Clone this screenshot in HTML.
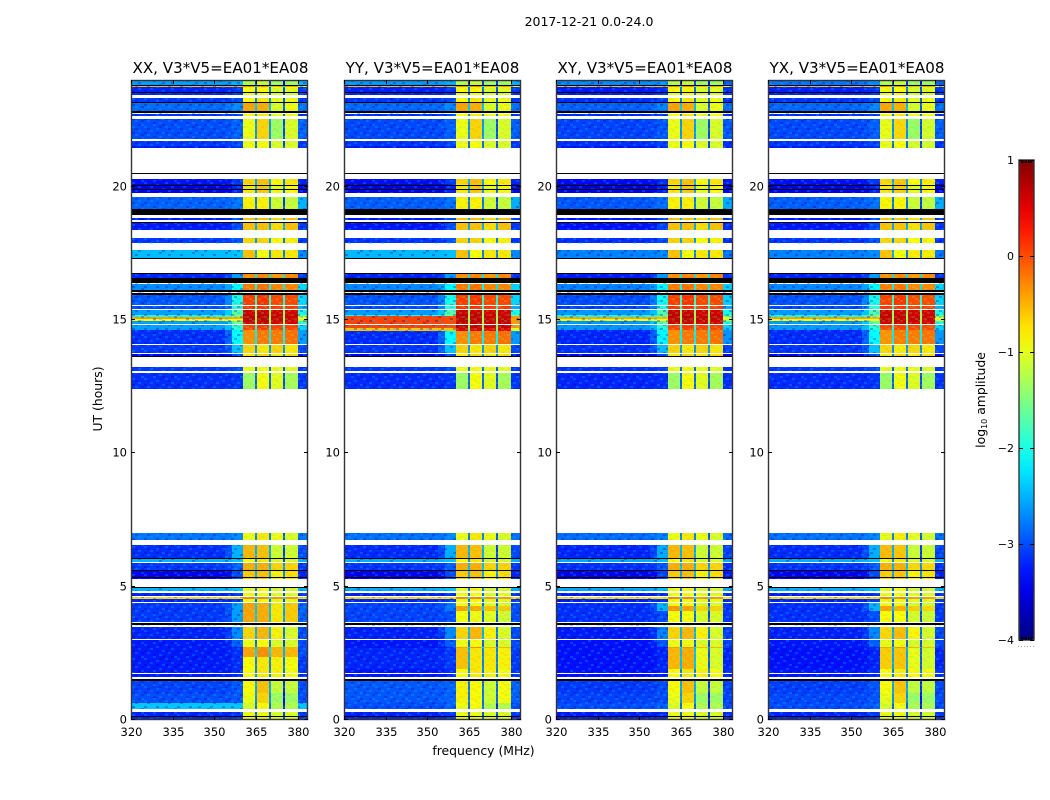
<!DOCTYPE html>
<html lang="en">
<head>
<meta charset="utf-8">
<title>2017-12-21 amplitude waterfall</title>
<style>
html,body{margin:0;padding:0;background:#fff;}
svg{display:block;}
text{font-family:"DejaVu Sans","Liberation Sans",sans-serif;fill:#000;}
</style>
</head>
<body>
<svg id="fig" xmlns="http://www.w3.org/2000/svg" width="1050" height="800" viewBox="0 0 1050 800">
  <defs>
    <linearGradient id="jet-gradient" x1="0" y1="1" x2="0" y2="0"></linearGradient>
    <pattern id="speckle" x="0" y="0" width="33" height="14" patternUnits="userSpaceOnUse">
      <g shape-rendering="crispEdges" fill="#00b4ff" fill-opacity="0.3">
        <rect x="0" y="0" width="3" height="2"/><rect x="12" y="0" width="3" height="2"/><rect x="24" y="2" width="3" height="2"/>
        <rect x="6" y="4" width="3" height="2"/><rect x="18" y="4" width="3" height="2"/><rect x="30" y="6" width="3" height="2"/>
        <rect x="3" y="8" width="3" height="2"/><rect x="15" y="8" width="3" height="2"/><rect x="27" y="10" width="3" height="2"/>
        <rect x="9" y="12" width="3" height="2"/><rect x="21" y="12" width="3" height="2"/>
      </g>
      <g shape-rendering="crispEdges" fill="#0000a0" fill-opacity="0.3">
        <rect x="3" y="2" width="3" height="2"/><rect x="15" y="2" width="3" height="2"/><rect x="27" y="0" width="3" height="2"/>
        <rect x="0" y="6" width="3" height="2"/><rect x="12" y="6" width="3" height="2"/><rect x="24" y="6" width="3" height="2"/>
        <rect x="9" y="8" width="3" height="2"/><rect x="21" y="10" width="3" height="2"/><rect x="6" y="12" width="3" height="2"/>
        <rect x="30" y="12" width="3" height="2"/>
      </g>
    </pattern>
    <pattern id="band-texture" x="0" y="0" width="18" height="10" patternUnits="userSpaceOnUse">
      <g shape-rendering="crispEdges" fill="#60ff90" fill-opacity="0.22">
        <rect x="0" y="0" width="3" height="2"/><rect x="9" y="2" width="3" height="2"/><rect x="3" y="4" width="3" height="2"/>
        <rect x="12" y="6" width="3" height="2"/><rect x="6" y="8" width="3" height="2"/><rect x="15" y="8" width="3" height="2"/>
      </g>
      <g shape-rendering="crispEdges" fill="#ff8a00" fill-opacity="0.16">
        <rect x="6" y="0" width="3" height="2"/><rect x="15" y="2" width="3" height="2"/><rect x="0" y="4" width="3" height="2"/>
        <rect x="9" y="6" width="3" height="2"/><rect x="3" y="8" width="3" height="2"/>
      </g>
    </pattern>
  </defs>
  <rect x="0" y="0" width="1050" height="800" fill="#fff"/>
  <text x="589" y="26" font-size="12.5" text-anchor="middle">2017-12-21 0.0-24.0</text>
  <g id="panels"></g>
  <text x="220.5" y="73" font-size="15.1" text-anchor="middle">XX, V3*V5=EA01*EA08</text>
  <text x="432.5" y="73" font-size="15.1" text-anchor="middle">YY, V3*V5=EA01*EA08</text>
  <text x="645" y="73" font-size="15.1" text-anchor="middle">XY, V3*V5=EA01*EA08</text>
  <text x="857" y="73" font-size="15.1" text-anchor="middle">YX, V3*V5=EA01*EA08</text>
  <text font-size="12.4" text-anchor="middle" transform="translate(102 399) rotate(-90)">UT (hours)</text>
  <text x="483.5" y="755" font-size="12.4" text-anchor="middle">frequency (MHz)</text>
  <text font-size="12.4" text-anchor="middle" transform="translate(985 400) rotate(-90)">log<tspan font-size="8" dy="2">10</tspan><tspan dy="-2"> amplitude</tspan></text>
  <g id="colorbar"></g>
</svg>
<script>
// Frequency blocks in MHz: background, ramp start, ramp, four bright sub-bands with RFI notches, edge.
const freqEdges = [320, 354, 356.5, 360.4, 364.7, 365.4, 369.8, 370.5, 374.8, 375.5, 380, 383.8];
// Each row: UT start, UT end, background, ramp, band 1-4, right edge (log10 amplitude).
const utStart = [0,0.41,0.64,1.0,1.6,2.36,2.74,3.03,3.66,4.4,4.52,4.65,4.85,5.27,5.62,5.92,6.06,6.75,12.42,13.07,13.3,13.62,13.76,14.07,14.62,14.82,14.95,15.05,15.12,15.2,15.38,15.57,16.12,16.56,17.31,17.88,18.38,19.15,19.77,20.1,21.46,21.54,21.78,22.65,22.84,23.15,23.44,23.56,23.75,23.83];
const utEnd   = [0.29,0.64,1.0,1.5,2.36,2.74,3.03,3.5,4.38,4.52,4.6,4.75,4.98,5.62,5.9,6.03,6.56,7.02,13.02,13.25,13.35,13.75,14.06,14.62,14.8,14.95,15.05,15.12,15.2,15.37,15.52,15.94,16.35,16.72,17.63,18.06,18.87,19.62,20.1,20.27,21.54,21.71,22.54,22.72,23.12,23.31,23.5,23.75,23.79,24];
const bgLevel = [-3.1,-2.3,-2.9,-2.95,-3.15,-3.15,-3.15,-3.1,-3.0,-3.1,-0.6,-3.1,-2.4,-3.3,-3.0,-2.4,-3.05,-2.7,-3.05,-3.0,-3.0,-3.3,-3.0,-3.05,-2.5,-2.5,-0.8,-0.3,-1.9,-2.5,-2.9,-2.85,-2.6,-3.1,-2.35,-3.0,-3.15,-2.8,-3.35,-3.2,-3.1,-3.0,-2.9,-3.0,-2.75,-3.0,-3.1,-3.1,-0.45,-2.5];
const rampLevel = [-3.0,-2.3,-2.85,-2.85,-3.05,-3.05,-2.8,-2.6,-2.5,-3.0,-0.6,-3.0,-2.3,-2.9,-2.8,-2.3,-2.4,-2.6,-3.0,-2.9,-2.9,-2.9,-2.3,-2.0,-1.8,-1.5,-0.8,-0.4,-1.4,-1.6,-1.8,-1.9,-2.0,-2.5,-2.3,-2.85,-2.9,-2.7,-3.1,-3.0,-3.0,-2.9,-2.8,-2.9,-2.6,-2.9,-3.0,-3.0,-0.45,-2.4];
const band1 = [-0.9,-1.0,-0.9,-0.8,-0.8,-0.35,-0.9,-0.6,-0.35,-0.9,-0.2,-0.9,-0.9,-0.55,-0.4,-0.8,-0.45,-0.9,-1.3,-0.9,-0.9,-0.7,-0.6,-0.25,0.1,0.7,0.75,0.75,0.75,0.7,0.2,0.15,-0.15,-0.25,-0.5,-0.6,-0.5,-0.75,-0.7,-0.6,-0.9,-0.9,-0.9,-0.8,-0.35,-0.8,-0.9,-0.85,-0.2,-1.2];
const band2 = [-0.9,-0.8,-0.6,-0.5,-0.7,-0.25,-0.85,-0.45,-0.4,-0.85,-0.2,-0.85,-0.8,-0.5,-0.4,-0.7,-0.5,-0.7,-0.85,-0.85,-0.85,-0.6,-0.7,-0.15,0.15,0.7,0.75,0.75,0.75,0.7,0.2,0.2,-0.1,-0.2,-0.85,-0.6,-0.5,-0.75,-0.55,-0.5,-0.85,-0.8,-0.6,-0.7,-0.4,-0.7,-0.85,-0.8,-0.2,-1.1];
const band3 = [-1.0,-1.2,-1.3,-1.1,-0.75,-0.45,-1.0,-0.75,-0.7,-0.95,-0.3,-0.95,-1.0,-0.75,-0.6,-1.0,-1.05,-0.9,-0.95,-0.9,-0.9,-0.7,-0.6,-0.15,0.1,0.65,0.7,0.7,0.7,0.65,0.15,0.1,-0.2,-0.3,-0.7,-0.8,-0.65,-1.05,-0.9,-0.8,-1.0,-1.0,-1.3,-0.9,-1.0,-0.95,-1.0,-1.0,-0.4,-1.3];
const band4 = [-1.0,-1.2,-1.3,-1.1,-0.85,-0.45,-1.0,-1.0,-0.55,-0.95,-0.3,-0.95,-1.0,-0.65,-0.6,-1.0,-1.05,-1.0,-1.25,-0.95,-0.95,-0.65,-0.7,-0.1,0.1,0.65,0.7,0.7,0.7,0.65,0.15,0.1,-0.2,-0.2,-0.7,-0.75,-0.5,-1.1,-0.8,-0.7,-1.0,-1.0,-1.0,-0.85,-0.9,-0.9,-1.0,-0.95,-0.3,-1.3];
const rightLevel = [-3.0,-2.3,-2.9,-2.9,-3.0,-2.9,-2.9,-2.9,-2.8,-3.0,-0.6,-3.0,-2.4,-3.1,-3.0,-2.4,-2.9,-2.7,-3.0,-3.0,-3.0,-3.2,-2.9,-2.5,-2.2,-1.8,-1.0,-0.8,-1.5,-1.9,-2.4,-2.2,-2.2,-3.0,-2.6,-3.0,-3.0,-2.4,-3.3,-3.1,-3.0,-3.0,-2.8,-3.0,-2.7,-3.0,-3.0,-3.0,-0.8,-2.4];

// Flagged (white) and blanked (black) time ranges in UT hours.
const gapStart = [0.29,1.53,1.75,3.02,3.49,3.64,4.38,4.62,4.75,4.98,5.9,6.56,7.02,13.02,13.25,13.33,13.75,14.06,14.8,15.37,15.55,16.0,16.77,17.63,18.06,18.69,18.84,19.62,20.27,20.5,21.71,22.54,23.31];
const gapEnd   = [0.41,1.6,1.78,3.05,3.53,3.68,4.42,4.65,4.85,5.27,5.92,6.75,12.42,13.07,13.3,13.6,13.78,14.09,14.84,15.4,15.58,16.03,17.31,17.84,18.38,18.74,18.94,19.77,20.47,21.46,21.78,22.65,23.44];
const blackStart = [0.12,1.47,3.56,4.95,5.33,5.6,6.04,13.6,15.94,16.06,16.38,16.74,17.29,18.63,18.94,19.86,20.04,22.75,23.14,23.5,23.79,20.48];
const blackEnd   = [0.14,1.53,3.62,4.98,5.36,5.64,6.07,13.65,16.0,16.12,16.56,16.77,17.32,18.67,19.15,19.9,20.08,22.84,23.17,23.56,23.83,20.52];

// Per-panel amplitude shifts for the bright band and the background.
const panelLeft = [131, 344, 556, 768];
const panelHighShift = [-0.06, -0.06, -0.06, -0.08];
const panelBgShift = [-0.1, -0.12, -0.15, -0.12];
// Per-panel overrides of whole rows, where a polarization departs from the shared rows.
const overridePanel = [1,1,2,3,2,3,1,2,3,1,1,1,1,1,2,2,2,2,3,3,3,3];
const overrideStart = [14.62,14.6,17.31,17.31,0.41,0.41,0.41,23.83,23.83,3.66,4.08,4.28,1.9,0.64,3.66,4.08,4.28,1.9,3.66,4.08,4.28,1.9];
const overrideEnd   = [15.15,14.7,17.63,17.63,0.64,0.64,0.64,24,24,4.08,4.28,4.38,2.7,1.5,4.08,4.28,4.38,2.7,4.08,4.28,4.38,2.7];
const overrideBg    = [0.05,-0.6,-2.75,-2.75,-3.0,-3.0,-3.0,-2.7,-2.8,-3.05,-3.05,-3.05,-3.2,-2.95,-3.15,-3.15,-3.15,-3.3,-3.15,-3.15,-3.15,-3.3];
const overrideRamp  = [0.0,-0.6,-2.7,-2.7,-2.9,-2.9,-2.9,-2.6,-2.7,-3.0,-2.8,-2.8,-3.1,-2.9,-3.0,-2.5,-2.5,-3.2,-3.0,-2.5,-2.5,-3.2];
const overrideB1    = [0.75,0.6,-0.5,-0.5,-1.0,-1.0,-0.9,-1.2,-1.2,-0.85,-0.35,-0.8,-0.5,-0.75,-0.85,-0.3,-0.8,-0.45,-0.8,-0.35,-0.8,-0.55];
const overrideB2    = [0.75,0.6,-0.85,-0.85,-0.85,-0.85,-0.8,-1.1,-1.1,-0.9,-0.4,-0.85,-0.7,-0.8,-0.85,-0.35,-0.8,-0.4,-0.8,-0.4,-0.85,-0.5];
const overrideB3    = [0.7,0.55,-0.7,-0.7,-1.2,-1.2,-1.2,-1.3,-1.3,-0.95,-0.5,-0.95,-0.7,-1.05,-1.0,-0.6,-1.0,-0.9,-1.0,-0.55,-1.0,-0.9];
const overrideB4    = [0.7,0.55,-0.7,-0.7,-1.2,-1.2,-1.2,-1.3,-1.3,-1.05,-0.55,-1.0,-0.75,-0.85,-1.0,-0.6,-1.0,-1.0,-1.05,-0.6,-1.0,-1.0];
const overrideRight = [-0.4,-1.0,-2.8,-2.8,-3.0,-3.0,-3.0,-2.9,-2.9,-3.0,-3.0,-3.0,-3.1,-2.9,-3.1,-3.1,-3.1,-3.2,-3.1,-3.1,-3.1,-3.2];

const xTicks = [320, 335, 350, 365, 380];
const yTicks = [0, 5, 10, 15, 20];
const colorTicks = [1, 0, -1, -2, -3, -4];
const colorbarMinorTicks = [0, 1, 2, 3, 4, 5, 6];

const SVGNS = 'http://www.w3.org/2000/svg';
const PANEL_W = 177, PANEL_TOP = 80, PANEL_BOTTOM = 720;
const CB_X = 1019, CB_W = 15, CB_TOP = 160, CB_BOTTOM = 640;

function xScale(mhz, left) { return left + (mhz - 320) * 2.775; }
function yScale(ut) { return PANEL_BOTTOM - ut * (PANEL_BOTTOM - PANEL_TOP) / 24; }
function cScale(v) { return CB_BOTTOM - (v + 4) * (CB_BOTTOM - CB_TOP) / 5; }
function clamp(v) { return Math.max(0, Math.min(1, v)); }
function jet(v) {
  const t = clamp((v + 4) / 5);
  const r = clamp(1.5 - Math.abs(4 * t - 3));
  const g = clamp(1.5 - Math.abs(4 * t - 2));
  const b = clamp(1.5 - Math.abs(4 * t - 1));
  return 'rgb(' + Math.round(r * 255) + ',' + Math.round(g * 255) + ',' + Math.round(b * 255) + ')';
}
function mk(tag, parent, attrs) {
  const el = document.createElementNS(SVGNS, tag);
  for (const k in attrs) el.setAttribute(k, attrs[k]);
  parent.appendChild(el);
  return el;
}
function rowColumns(bg, ramp, b1, b2, b3, b4, right, hi, low) {
  const B = bg + low, R = ramp + low;
  const a = b1 + hi, b = b2 + hi, c = b3 + hi, d = b4 + hi;
  const drop = 2.0;
  return [B, (3 * B + R) / 4, R, a, Math.max(a, b) - drop, b, Math.max(b, c) - drop, c, Math.max(c, d) - drop, d, right + low];
}
function drawRow(g, left, t0, t1, cols) {
  const y0 = Math.round(yScale(t1)), y1 = Math.round(yScale(t0));
  for (let i = 0; i < cols.length; i++) {
    const x0 = Math.round(xScale(freqEdges[i], left));
    const x1 = i === cols.length - 1 ? left + PANEL_W : Math.round(xScale(freqEdges[i + 1], left));
    const cell = mk('rect', g, { x: x0, y: y0, width: x1 - x0, height: Math.max(1, y1 - y0), fill: jet(cols[i]), 'shape-rendering': 'crispEdges' });
    
    
  }
}
function drawStrip(g, left, t0, t1, color, name) {
  const y0 = Math.round(yScale(t1)), y1 = Math.round(yScale(t0));
  const strip = mk('rect', g, { x: left, y: y0, width: PANEL_W, height: Math.max(1, y1 - y0), fill: color, 'shape-rendering': 'crispEdges' });
  
  
}
function tickLine(g, x1, y1, x2, y2, name) {
  const tick = mk('line', g, { x1: x1, y1: y1, x2: x2, y2: y2, stroke: '#000', 'stroke-width': 1, 'shape-rendering': 'crispEdges' });
  
  
}

const panelsRoot = document.getElementById('panels');
panelLeft.forEach(function (left, p) {
  const g = mk('g', panelsRoot, {});
  
  

  for (let r = 0; r < utStart.length; r++) {
    drawRow(g, left, utStart[r], utEnd[r], rowColumns(bgLevel[r], rampLevel[r], band1[r], band2[r], band3[r], band4[r], rightLevel[r], panelHighShift[p], panelBgShift[p]));
  }
  for (let o = 0; o < overridePanel.length; o++) {
    if (overridePanel[o] !== p) continue;
    drawRow(g, left, overrideStart[o], overrideEnd[o], rowColumns(overrideBg[o], overrideRamp[o], overrideB1[o], overrideB2[o], overrideB3[o], overrideB4[o], overrideRight[o], panelHighShift[p], 0));
  }
  const bandLeft = Math.round(xScale(freqEdges[3], left));
  const bandRight = Math.round(xScale(freqEdges[10], left));
  const speckleLow = mk('rect', g, { x: left, y: PANEL_TOP, width: bandLeft - left, height: PANEL_BOTTOM - PANEL_TOP, fill: 'url(#speckle)' });
  
  
  const speckleHigh = mk('rect', g, { x: bandRight, y: PANEL_TOP, width: left + PANEL_W - bandRight, height: PANEL_BOTTOM - PANEL_TOP, fill: 'url(#speckle)' });
  
  
  const bandTexture = mk('rect', g, { x: bandLeft, y: PANEL_TOP, width: bandRight - bandLeft, height: PANEL_BOTTOM - PANEL_TOP, fill: 'url(#band-texture)' });
  
  
  for (let i = 0; i < gapStart.length; i++) drawStrip(g, left, gapStart[i], gapEnd[i], '#fff', 'flagged-gap');
  for (let i = 0; i < blackStart.length; i++) drawStrip(g, left, blackStart[i], blackEnd[i], '#000', 'blank-line');

  const frame = mk('rect', g, { x: left + 0.5, y: PANEL_TOP + 0.5, width: PANEL_W - 1, height: PANEL_BOTTOM - PANEL_TOP - 1, fill: 'none', stroke: '#333', 'stroke-width': 1.4 });
  
  

  xTicks.forEach(function (v) {
    const x = Math.round(xScale(v, left)) + 0.5;
    tickLine(g, x, PANEL_BOTTOM, x, PANEL_BOTTOM - 4, 'x-tick');
    tickLine(g, x, PANEL_TOP, x, PANEL_TOP + 4, 'x-tick');
    const label = mk('text', g, { x: x, y: 736, 'font-size': 11.5, 'text-anchor': 'middle' });
    
    
    label.textContent = String(v);
  });
  yTicks.forEach(function (v) {
    const y = Math.round(yScale(v)) - 0.5;
    tickLine(g, left, y, left + 4, y, 'y-tick');
    tickLine(g, left + PANEL_W, y, left + PANEL_W - 4, y, 'y-tick');
    const label = mk('text', g, { x: left - 4, y: y + 4, 'font-size': 11.5, 'text-anchor': 'end' });
    
    
    label.textContent = String(v);
  });
});

// Colorbar: jet gradient spanning the data range.
const gradient = document.getElementById('jet-gradient');
for (let i = 0; i <= 20; i++) {
  mk('stop', gradient, { offset: (i * 5) + '%', 'stop-color': jet(-4 + i * 0.25) });
}
const cbRoot = document.getElementById('colorbar');
const cbBar = mk('rect', cbRoot, { x: CB_X, y: CB_TOP, width: CB_W, height: CB_BOTTOM - CB_TOP, fill: 'url(#jet-gradient)', stroke: '#333', 'stroke-width': 1.4 });


colorTicks.forEach(function (v) {
  const y = Math.round(cScale(v)) + 0.5;
  tickLine(cbRoot, CB_X, y, CB_X + 4, y, 'colorbar-tick');
  tickLine(cbRoot, CB_X + CB_W, y, CB_X + CB_W - 4, y, 'colorbar-tick');
  const label = mk('text', cbRoot, { x: 1014, y: y + 3.5, 'font-size': 11, 'text-anchor': 'end' });
  
  
  label.textContent = v < 0 ? '\u2212' + Math.abs(v) : String(v);
});
colorbarMinorTicks.forEach(function (i) {
  const x = CB_X + 2.5 + i * 1.7;
  tickLine(cbRoot, x, CB_TOP, x, CB_TOP + 3, 'colorbar-minor-tick');
  tickLine(cbRoot, x, CB_BOTTOM, x, CB_BOTTOM - 3, 'colorbar-minor-tick');
});
const cbDots = mk('line', cbRoot, { x1: CB_X - 1, y1: 646.5, x2: CB_X + CB_W, y2: 646.5, stroke: '#aaa', 'stroke-width': 1, 'stroke-dasharray': '1 2' });


</script>
</body>
</html>
